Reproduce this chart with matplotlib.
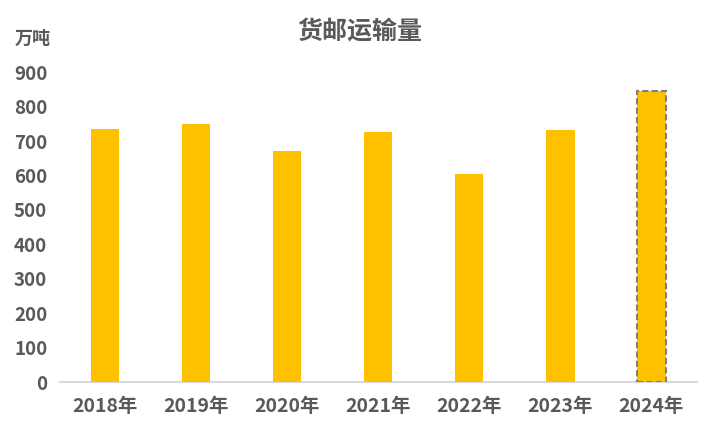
import matplotlib
matplotlib.use("Agg")
import matplotlib.pyplot as plt

plt.rcParams['font.family'] = ['Noto Sans CJK SC', 'DejaVu Sans']

years = ["2018年", "2019年", "2020年", "2021年", "2022年", "2023年", "2024年"]
values = [735, 749, 672, 727, 604, 733, 846]
estimated = [False, False, False, False, False, False, True]

fig = plt.figure(figsize=(7.2, 4.32), dpi=100)
ax = fig.add_axes([0.083, 0.1157, 0.885, 0.717])

txt = "#595959"
x = range(len(years))
for i, (v, est) in enumerate(zip(values, estimated)):
    if est:
        ax.bar(i, v, width=0.31, color="#FFC000", edgecolor="#7F7F7F",
               linestyle=(0, (3, 1.5)), linewidth=1.5, zorder=3)
    else:
        ax.bar(i, v, width=0.31, color="#FFC000", zorder=3)

ax.set_xlim(-0.5, len(years) - 0.5)
ax.set_ylim(0, 900)
ax.set_yticks(range(0, 1000, 100))
ax.set_xticks(list(x))
ax.set_xticklabels(years)
for s in ["top", "right", "left"]:
    ax.spines[s].set_visible(False)
ax.spines["bottom"].set_color("#D9D9D9")
ax.spines["bottom"].set_linewidth(1.5)
ax.tick_params(axis="both", length=0, colors=txt)
ax.tick_params(axis="x", pad=11, labelsize=14)
ax.tick_params(axis="y", pad=9, labelsize=13.5)
for lab in ax.get_xticklabels() + ax.get_yticklabels():
    lab.set_fontweight("bold")
    lab.set_color(txt)

fig.text(0.5, 0.925, "货邮运输量", ha="center", va="center", fontsize=18,
         fontweight="bold", color=txt)
fig.text(0.045, 0.912, "万吨", ha="center", va="center", fontsize=13,
         fontweight="bold", color=txt)

fig.savefig("out.png", dpi=100)
